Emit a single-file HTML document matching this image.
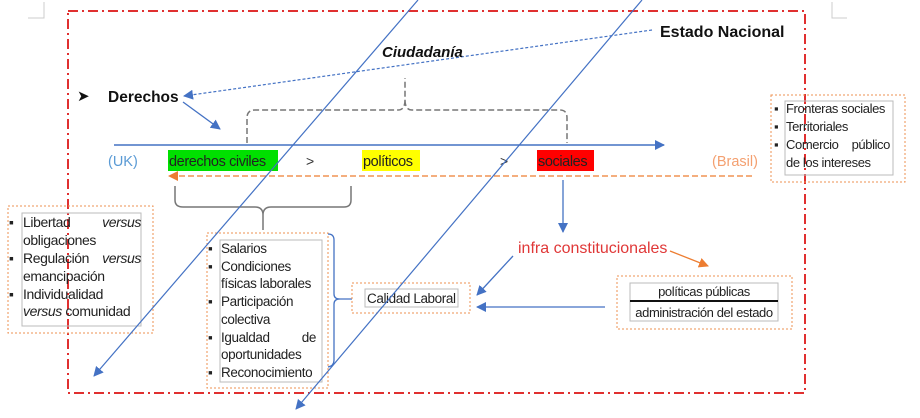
<!DOCTYPE html>
<html><head><meta charset="utf-8"><style>
html,body{margin:0;padding:0;background:#fff;}
svg{display:block;font-family:"Liberation Sans",sans-serif;}
.t{font-size:13.5px;fill:#222;letter-spacing:-0.4px;}
</style></head><body>
<svg width="920" height="418" viewBox="0 0 920 418" xmlns="http://www.w3.org/2000/svg">
<defs>
<marker id="ab" markerWidth="10" markerHeight="10" refX="9" refY="5" orient="auto" markerUnits="userSpaceOnUse"><path d="M0,0 L10,5 L0,10 z" fill="#4472c4"/></marker>
<marker id="ao" markerWidth="10" markerHeight="10" refX="9" refY="5" orient="auto" markerUnits="userSpaceOnUse"><path d="M0,0 L10,5 L0,10 z" fill="#ed7d31"/></marker>
</defs>
<!-- corner marks -->
<path d="M44,2 V18 H28" fill="none" stroke="#ccc" stroke-width="1"/>
<path d="M832,2 V18 H847" fill="none" stroke="#ccc" stroke-width="1"/>
<!-- red border -->
<rect x="68" y="11" width="737" height="382" fill="none" stroke="#e03030" stroke-width="2" stroke-dasharray="10,4,2,4"/>

<!-- gray dashed brace top -->
<path d="M247,143 V118 Q247,110 255,110 H398 Q405,110 405,100 V78 M405,100 Q405,110 412,110 H560 Q567,110 567,118 V143" fill="none" stroke="#777" stroke-width="1.5" stroke-dasharray="6,3"/>

<!-- axis -->
<line x1="114" y1="145" x2="664" y2="145" stroke="#4472c4" stroke-width="1.5" marker-end="url(#ab)"/>
<!-- orange dashed -->
<line x1="752" y1="176" x2="169" y2="176" stroke="#ed7d31" stroke-width="1.2" stroke-dasharray="6,3" marker-end="url(#ao)"/>

<!-- Estado Nacional dotted -->
<line x1="652" y1="30" x2="184" y2="96" stroke="#4472c4" stroke-width="1.2" stroke-dasharray="3,2" marker-end="url(#ab)"/>
<text x="660" y="37" font-size="16" font-weight="bold" fill="#111">Estado Nacional</text>
<text x="382" y="57" font-size="15" font-weight="bold" font-style="italic" fill="#111">Ciudadanía</text>
<text x="77" y="101" font-size="15" fill="#111">➤</text>
<text x="108" y="102" font-size="15.5" font-weight="bold" fill="#111">Derechos</text>
<line x1="183" y1="102" x2="220" y2="129" stroke="#4472c4" stroke-width="1.3" marker-end="url(#ab)"/>

<!-- row -->
<text x="108" y="166" font-size="14.5" fill="#5b9bd5">(UK)</text>
<rect x="168" y="150" width="110" height="21" fill="#00e000"/>
<text x="169" y="166" class="t" font-size="14.5" style="font-size:14.5px">derechos civiles</text>
<text x="306" y="166" font-size="14" fill="#333">&gt;</text>
<rect x="362" y="150" width="58" height="21" fill="#ffff00"/>
<text x="363" y="166" class="t" style="font-size:14.5px">políticos</text>
<text x="500" y="166" font-size="14" fill="#333">&gt;</text>
<rect x="537" y="150" width="57" height="21" fill="#ff0000"/>
<text x="538" y="166" class="t" style="font-size:14.5px">sociales</text>
<text x="712" y="166" font-size="14.5" fill="#f4a070">(Brasil)</text>

<!-- right box -->
<rect x="771" y="95" width="134" height="87" fill="none" stroke="#ed9050" stroke-width="1" stroke-dasharray="2,2"/>
<rect x="785" y="101" width="108" height="74" fill="none" stroke="#bbb" stroke-width="1"/>
<g class="t" style="font-size:13px">
<text x="774" y="113">▪</text><text x="786" y="113">Fronteras sociales</text>
<text x="774" y="131">▪</text><text x="786" y="131">Territoriales</text>
<text x="774" y="149">▪</text><text x="786" y="149">Comercio</text><text x="890" y="149" text-anchor="end">público</text>
<text x="786" y="167">de los intereses</text>
</g>

<!-- lower brace -->
<path d="M175,186 V200 Q175,207 183,207 H255 Q263,207 263,215 V230 M263,215 Q263,207 271,207 H344 Q351,207 351,200 V186" fill="none" stroke="#777" stroke-width="1.5"/>

<!-- sociales down arrow -->
<line x1="563" y1="180" x2="563" y2="232" stroke="#4472c4" stroke-width="1.3" marker-end="url(#ab)"/>

<!-- left box -->
<rect x="8" y="206" width="145" height="127" fill="none" stroke="#ed9050" stroke-width="1" stroke-dasharray="2,2"/>
<rect x="22" y="213" width="119" height="113" fill="none" stroke="#bbb" stroke-width="1"/>
<g class="t" style="font-size:14px">
<text x="9" y="227">▪</text><text x="23" y="227">Libertad</text><text x="141" y="227" text-anchor="end" font-style="italic">versus</text>
<text x="23" y="245">obligaciones</text>
<text x="9" y="263">▪</text><text x="23" y="263">Regulación</text><text x="141" y="263" text-anchor="end" font-style="italic">versus</text>
<text x="23" y="281">emancipación</text>
<text x="9" y="299">▪</text><text x="23" y="299">Individualidad</text>
<text x="23" y="316"><tspan font-style="italic">versus</tspan> comunidad</text>
</g>

<!-- middle box -->
<rect x="207" y="233" width="121" height="155" fill="none" stroke="#ed9050" stroke-width="1" stroke-dasharray="2,2"/>
<rect x="220" y="240" width="102" height="142" fill="none" stroke="#bbb" stroke-width="1"/>
<g class="t" style="font-size:13.5px">
<text x="208" y="253">▪</text><text x="221" y="253">Salarios</text>
<text x="208" y="271">▪</text><text x="221" y="271">Condiciones</text>
<text x="221" y="288">físicas laborales</text>
<text x="208" y="306">▪</text><text x="221" y="306">Participación</text>
<text x="221" y="324">colectiva</text>
<text x="208" y="342">▪</text><text x="221" y="342">Igualdad</text><text x="316" y="342" text-anchor="end">de</text>
<text x="221" y="359">oportunidades</text>
<text x="208" y="377">▪</text><text x="221" y="377">Reconocimiento</text>
</g>

<!-- blue brace -->
<path d="M328,234 Q334,234 334,240 V294 Q334,299 340,299 H352 M340,299 Q334,299 334,304 V360 Q334,366 328,367" fill="none" stroke="#4472c4" stroke-width="1.3"/>

<!-- calidad -->
<rect x="352" y="283" width="118" height="30" fill="none" stroke="#ed9050" stroke-width="1" stroke-dasharray="2,2"/>
<rect x="365" y="289" width="93" height="18" fill="none" stroke="#bbb" stroke-width="1"/>
<text x="367" y="303" class="t" style="font-size:13.5px">Calidad Laboral</text>

<!-- infra -->
<text x="518" y="253" font-size="16" fill="#e03838">infra constitucionales</text>
<line x1="670" y1="251" x2="708" y2="266" stroke="#ed7d31" stroke-width="1.3" marker-end="url(#ao)"/>
<line x1="513" y1="256" x2="477" y2="295" stroke="#4472c4" stroke-width="1.3" marker-end="url(#ab)"/>
<line x1="605" y1="307" x2="477" y2="307" stroke="#4472c4" stroke-width="1.3" marker-end="url(#ab)"/>

<!-- policy box -->
<rect x="617" y="276" width="175" height="53" fill="none" stroke="#ed9050" stroke-width="1" stroke-dasharray="2,2"/>
<rect x="630" y="283" width="148" height="38" fill="none" stroke="#bbb" stroke-width="1"/>
<line x1="630" y1="301" x2="778" y2="301" stroke="#111" stroke-width="2"/>
<text x="704" y="296" text-anchor="middle" class="t" style="font-size:13px">políticas públicas</text>
<text x="704" y="317" text-anchor="middle" class="t" style="font-size:13px">administración del estado</text>

<!-- long diagonals -->
<line x1="418" y1="0" x2="94" y2="376" stroke="#4472c4" stroke-width="1.2" marker-end="url(#ab)"/>
<line x1="642" y1="0" x2="296" y2="409" stroke="#4472c4" stroke-width="1.2" marker-end="url(#ab)"/>
</svg>
</body></html>
